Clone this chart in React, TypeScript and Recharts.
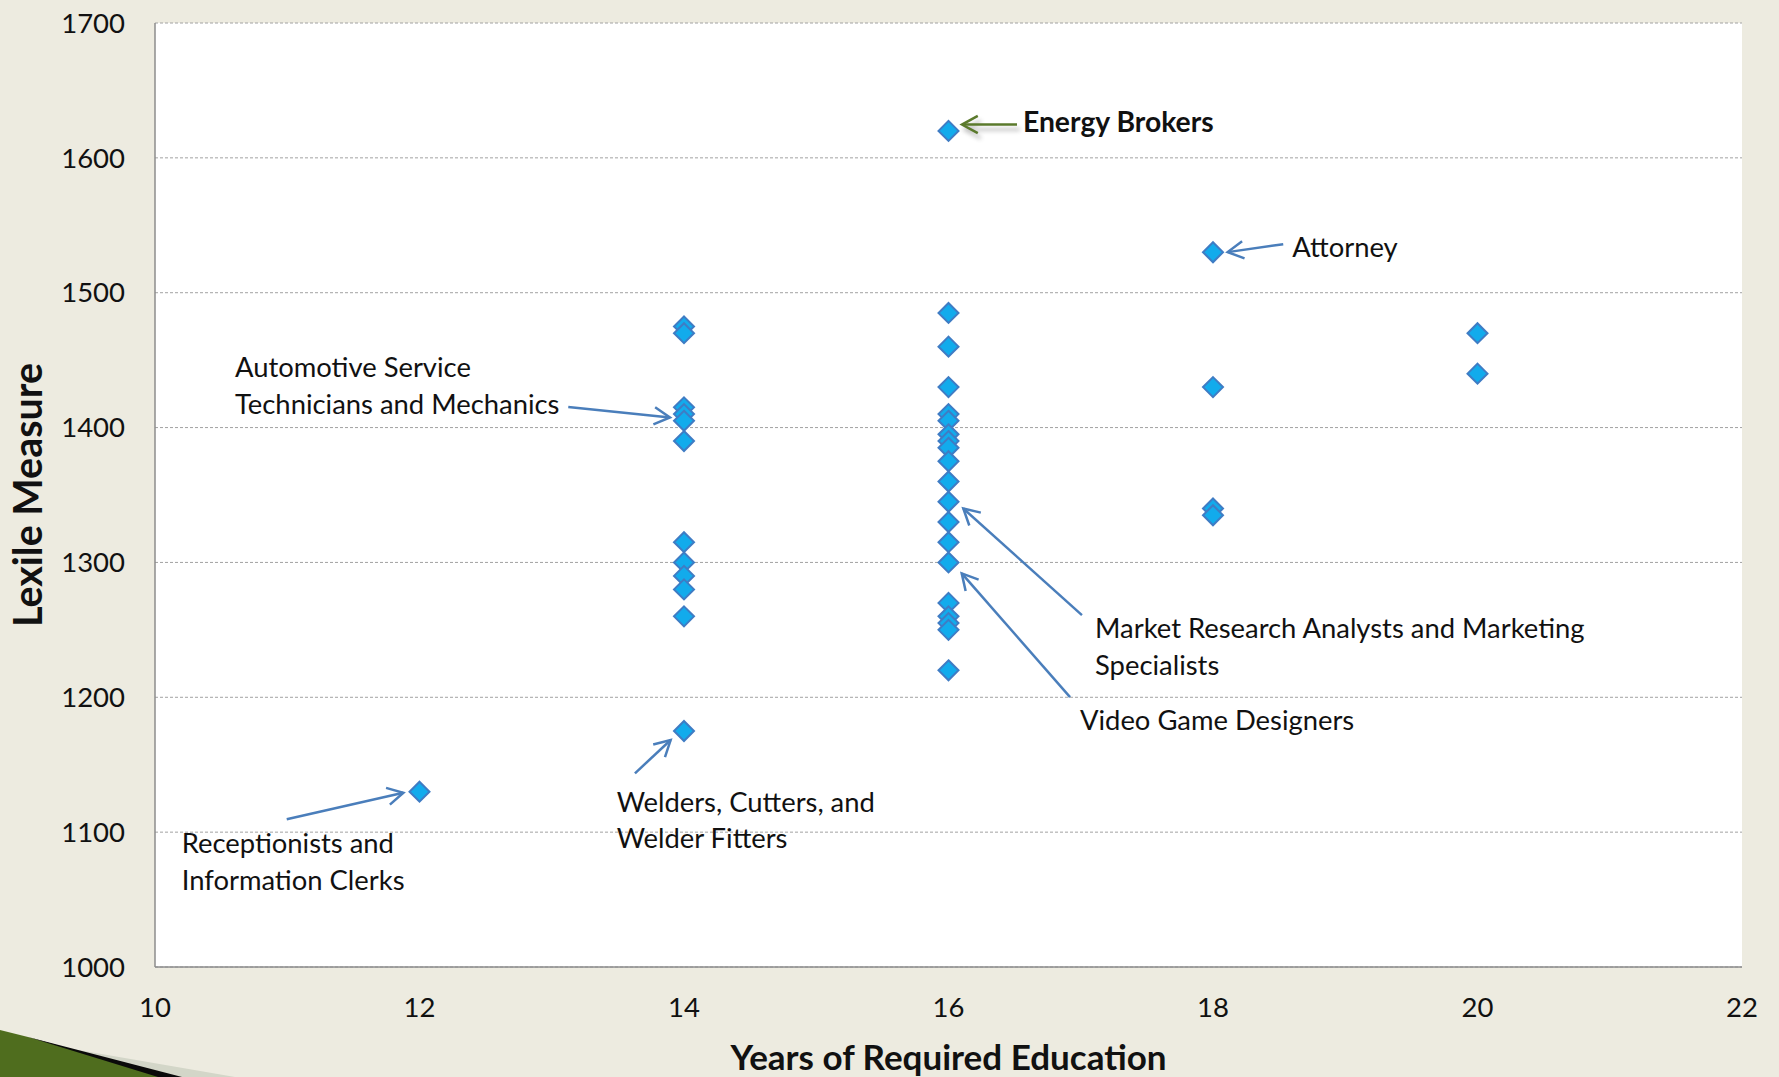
import React from 'react';
import {
  ScatterChart,
  Scatter,
  XAxis,
  YAxis,
  CartesianGrid,
  ReferenceLine,
  ReferenceDot,
} from 'recharts';

// Axis ticks
const xTicks = [10, 12, 14, 16, 18, 20, 22];
const yTicks = [1000, 1100, 1200, 1300, 1400, 1500, 1600, 1700];

// Lexile measures grouped by years of required education
const lexile12 = [1130];
const lexile14 = [1475, 1470, 1415, 1410, 1405, 1390, 1315, 1300, 1290, 1280, 1260, 1175];
const lexile16 = [
  1620, 1485, 1460, 1430, 1410, 1405, 1395, 1390, 1385, 1375, 1360, 1345, 1330, 1315, 1300,
  1270, 1260, 1255, 1250, 1220,
];
const lexile18 = [1530, 1430, 1340, 1335];
const lexile20 = [1470, 1440];

const groups: [number, number[]][] = [
  [12, lexile12],
  [14, lexile14],
  [16, lexile16],
  [18, lexile18],
  [20, lexile20],
];
const points = groups.flatMap(([years, vals]) => vals.map((lexile) => ({ years, lexile })));

const BLUE_ARROW = '#4a7ebb';
const GREEN_ARROW = '#5b7a2c';
const FONT = 'Lato, "Liberation Sans", sans-serif';

// Callout text, anchored at the first baseline in data units
const callouts = [
  { x: 16.563, y: 1619.2, lines: ['Energy Brokers'], bold: true },
  { x: 18.6, y: 1526.8, lines: ['Attorney'] },
  { x: 10.605, y: 1437.4, lines: ['Automotive Service', 'Technicians and Mechanics'] },
  { x: 10.202, y: 1084.5, lines: ['Receptionists and', 'Information Clerks'] },
  { x: 13.491, y: 1115.1, lines: ['Welders, Cutters, and', 'Welder Fitters'] },
  { x: 17.108, y: 1243.7, lines: ['Market Research Analysts and Marketing', 'Specialists'] },
  { x: 16.994, y: 1175.7, lines: ['Video Game Designers'] },
];

// Callout arrows, tail -> head in data units
const arrows = [
  { from: [16.518, 1624.7], to: [16.102, 1624.7], color: GREEN_ARROW, shadow: true },
  { from: [18.531, 1536.0], to: [18.111, 1530.1], color: BLUE_ARROW },
  { from: [13.125, 1415.3], to: [13.894, 1407.5], color: BLUE_ARROW },
  { from: [10.996, 1109.5], to: [11.878, 1129.2], color: BLUE_ARROW },
  { from: [13.629, 1143.6], to: [13.899, 1168.3], color: BLUE_ARROW },
  { from: [17.009, 1260.9], to: [16.112, 1340.0], color: BLUE_ARROW },
  { from: [16.919, 1200.1], to: [16.1, 1291.9], color: BLUE_ARROW },
];

const Diamond = (props: any) => {
  const { cx, cy } = props;
  const r = 10;
  return (
    <polygon
      points={`${cx},${cy - r} ${cx + r},${cy} ${cx},${cy + r} ${cx - r},${cy}`}
      fill="#12abec"
      stroke="#3f7cc4"
      strokeWidth={2}
    />
  );
};

const arrowShape = (color: string, shadow?: boolean) => (props: any) => {
  const { x1, y1, x2, y2 } = props;
  const ang = Math.atan2(y2 - y1, x2 - x1);
  const len = 18;
  const spread = 0.5;
  const w1x = x2 - len * Math.cos(ang - spread);
  const w1y = y2 - len * Math.sin(ang - spread);
  const w2x = x2 - len * Math.cos(ang + spread);
  const w2y = y2 - len * Math.sin(ang + spread);
  const head = `${w1x},${w1y} ${x2},${y2} ${w2x},${w2y}`;
  return (
    <g>
      {shadow && (
        <g transform="translate(3,5)" opacity={0.35} style={{ filter: 'blur(2px)' }}>
          <line x1={x1} y1={y1} x2={x2} y2={y2} stroke="#555" strokeWidth={3} />
          <polyline points={head} fill="none" stroke="#555" strokeWidth={3} />
        </g>
      )}
      <line x1={x1} y1={y1} x2={x2} y2={y2} stroke={color} strokeWidth={2.5} />
      <polyline points={head} fill="none" stroke={color} strokeWidth={2.5} />
    </g>
  );
};

const calloutShape = (lines: string[], bold?: boolean) => (props: any) => {
  const { cx, cy } = props;
  return (
    <text
      x={cx}
      y={cy}
      fontFamily={FONT}
      fontSize={bold ? 28.3 : 27.4}
      fontWeight={bold ? 700 : 400}
      fill="#111"
    >
      {lines.map((line, i) => (
        <tspan key={i} x={cx} dy={i === 0 ? 0 : 36.5}>
          {line}
        </tspan>
      ))}
    </text>
  );
};

const YTitle = (props: any) => {
  const { viewBox } = props;
  const y = viewBox.y + viewBox.height / 2;
  const x = 42;
  return (
    <text
      x={x}
      y={y}
      transform={`rotate(-90, ${x}, ${y})`}
      textAnchor="middle"
      fontFamily={FONT}
      fontSize={39.5}
      fontWeight={700}
      fill="#111"
    >
      Lexile Measure
    </text>
  );
};

const XTitle = (props: any) => {
  const { viewBox } = props;
  return (
    <text
      x={viewBox.x + viewBox.width / 2}
      y={1070}
      textAnchor="middle"
      fontFamily={FONT}
      fontSize={35}
      fontWeight={700}
      fill="#111"
    >
      Years of Required Education
    </text>
  );
};

export default function App() {
  const tickStyle = { fontSize: 27.5, fill: '#111', fontFamily: FONT };
  return (
    <div
      style={{
        position: 'fixed',
        left: 0,
        top: 0,
        width: 1779,
        height: 1077,
        background: '#edebe0',
        overflow: 'hidden',
        fontFamily: FONT,
      }}
    >
      <ScatterChart width={1779} height={1077} margin={{ top: 23, right: 37, bottom: 0, left: 0 }}>
        <CartesianGrid
          vertical={false}
          strokeDasharray="3 2"
          stroke="#a2a2a2"
          fill="#ffffff"
          fillOpacity={1}
        />
        <XAxis
          type="number"
          dataKey="years"
          domain={[10, 22]}
          ticks={xTicks}
          height={110}
          tickLine={false}
          tickSize={0}
          tickMargin={30}
          axisLine={{ stroke: '#8c8c8c', strokeWidth: 1.5 }}
          tick={tickStyle}
          label={XTitle}
        />
        <YAxis
          type="number"
          dataKey="lexile"
          domain={[1000, 1700]}
          ticks={yTicks}
          width={155}
          tickLine={false}
          tickSize={0}
          tickMargin={30}
          axisLine={{ stroke: '#8c8c8c', strokeWidth: 1.5 }}
          tick={tickStyle}
          label={YTitle}
        />
        {arrows.map((a, i) => (
          <ReferenceLine
            key={`a${i}`}
            segment={[
              { x: a.from[0], y: a.from[1] },
              { x: a.to[0], y: a.to[1] },
            ]}
            shape={arrowShape(a.color, a.shadow)}
          />
        ))}
        <Scatter data={points} shape={Diamond} isAnimationActive={false} />
        {callouts.map((c, i) => (
          <ReferenceDot
            key={`c${i}`}
            x={c.x}
            y={c.y}
            r={0}
            shape={calloutShape(c.lines, c.bold)}
          />
        ))}
      </ScatterChart>
      <svg
        width={1779}
        height={1077}
        style={{ position: 'absolute', left: 0, top: 0, pointerEvents: 'none' }}
      >
        <polygon points="55,1046 235,1077 165,1077" fill="#d3d6c8" />
        <polygon points="0,1030 28,1037 170,1077 0,1077" fill="#4f6d1e" />
        <polygon points="28,1037 182,1077 158,1077" fill="#0a0a0a" />
      </svg>
    </div>
  );
}
